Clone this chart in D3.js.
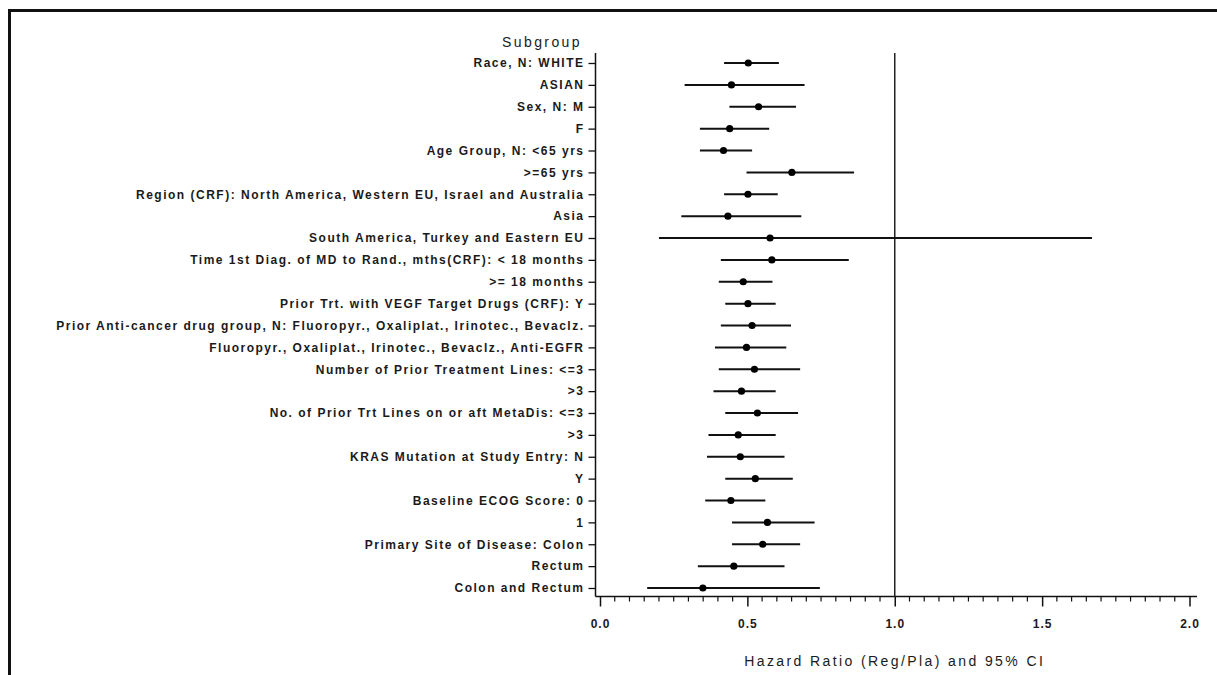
<!DOCTYPE html>
<html>
<head>
<meta charset="utf-8">
<script src="https://cdn.jsdelivr.net/npm/d3@7"></script>
<style>
  body { margin: 0; background: #fff; }
  svg { display: block; }
  text { font-family: "Liberation Sans", Arial, sans-serif; fill: #1a1a1a; }
</style>
</head>
<body>
<svg width="1217" height="675"></svg>
<script>
var subgroups = [
    "Race, N: WHITE",
    "ASIAN",
    "Sex, N: M",
    "F",
    "Age Group, N: <65 yrs",
    ">=65 yrs",
    "Region (CRF): North America, Western EU, Israel and Australia",
    "Asia",
    "South America, Turkey and Eastern EU",
    "Time 1st Diag. of MD to Rand., mths(CRF): < 18  months",
    ">= 18 months",
    "Prior Trt. with VEGF Target Drugs (CRF): Y",
    "Prior Anti-cancer drug group, N: Fluoropyr., Oxaliplat., Irinotec., Bevaclz.",
    "Fluoropyr., Oxaliplat., Irinotec., Bevaclz., Anti-EGFR",
    "Number of Prior Treatment Lines: <=3",
    ">3",
    "No. of Prior Trt Lines on or aft MetaDis: <=3",
    ">3 ",
    "KRAS Mutation at Study Entry: N",
    "Y",
    "Baseline ECOG Score: 0",
    "1",
    "Primary Site of Disease: Colon",
    "Rectum",
    "Colon and Rectum"
];
var hr    = [0.503, 0.446, 0.538, 0.440, 0.419, 0.651, 0.502, 0.434, 0.577, 0.583, 0.486, 0.502, 0.516,
             0.497, 0.524, 0.480, 0.534, 0.469, 0.476, 0.527, 0.444, 0.568, 0.552, 0.454, 0.349];
var lower = [0.421, 0.287, 0.439, 0.339, 0.339, 0.497, 0.421, 0.276, 0.200, 0.410, 0.403, 0.425, 0.410,
             0.390, 0.403, 0.385, 0.425, 0.368, 0.363, 0.425, 0.357, 0.448, 0.448, 0.332, 0.160];
var upper = [0.607, 0.694, 0.665, 0.574, 0.516, 0.862, 0.603, 0.683, 1.669, 0.844, 0.585, 0.596, 0.648,
             0.632, 0.679, 0.596, 0.672, 0.596, 0.626, 0.654, 0.561, 0.728, 0.679, 0.626, 0.746];
var xTicks = [0, 0.5, 1, 1.5, 2];

var rows = subgroups.map(function(s, i) {
    return { id: i, label: s.trim(), hr: hr[i], lo: lower[i], hi: upper[i] };
});

var svg = d3.select("svg");

// frame (only top and left edges are inside the picture)
svg.append("rect")
    .attr("x", 9.5).attr("y", 10.5)
    .attr("width", 1400).attr("height", 900)
    .attr("fill", "none")
    .attr("stroke", "#111")
    .attr("stroke-width", 3);

var x = d3.scaleLinear().domain([0, 2]).range([600, 1189.5]);
var y = d3.scalePoint().domain(rows.map(function(d) { return d.id; })).range([63, 588]);

var axisLeftX = 595.5, axisBottomY = 596.5, axisTopY = 53;

// y axis
svg.append("line")
    .attr("x1", axisLeftX).attr("x2", axisLeftX)
    .attr("y1", axisTopY).attr("y2", axisBottomY)
    .attr("stroke", "#111").attr("stroke-width", 1.5);

var yAxis = d3.axisLeft(y).tickSize(7).tickPadding(4)
    .tickFormat(function(i) { return rows[i].label; });
var gy = svg.append("g")
    .attr("transform", "translate(" + axisLeftX + ",0)")
    .call(yAxis);
gy.select(".domain").remove();
gy.selectAll(".tick line").attr("stroke", "#111").attr("stroke-width", 1.3);
gy.selectAll(".tick text")
    .attr("font-size", "12px")
    .attr("font-weight", "bold")
    .style("letter-spacing", "1.5px")
    .attr("fill", "#2a2a2a");

svg.append("text")
    .attr("x", 582).attr("y", 47)
    .attr("text-anchor", "end")
    .attr("font-size", "14px")
    .style("letter-spacing", "2.4px")
    .text("Subgroup");

// x axis, major and minor ticks
svg.append("line")
    .attr("x1", axisLeftX).attr("x2", 1197)
    .attr("y1", axisBottomY).attr("y2", axisBottomY)
    .attr("stroke", "#111").attr("stroke-width", 1.5);

var minor = d3.range(0, 2.0001, 0.05).filter(function(v) {
    return Math.abs(v * 2 - Math.round(v * 2)) > 1e-6;
});
svg.append("g").selectAll("line")
    .data(minor)
    .enter().append("line")
    .attr("x1", function(d) { return x(d); })
    .attr("x2", function(d) { return x(d); })
    .attr("y1", axisBottomY).attr("y2", axisBottomY + 5)
    .attr("stroke", "#111").attr("stroke-width", 1.2);

var xAxis = d3.axisBottom(x).tickValues(xTicks).tickSize(10).tickPadding(13)
    .tickFormat(d3.format(".1f"));
var gx = svg.append("g")
    .attr("transform", "translate(0," + axisBottomY + ")")
    .call(xAxis);
gx.select(".domain").remove();
gx.selectAll(".tick line").attr("stroke", "#111").attr("stroke-width", 1.5);
gx.selectAll(".tick text")
    .attr("font-size", "12px")
    .attr("font-weight", "bold")
    .style("letter-spacing", "1px")
    .attr("fill", "#2a2a2a");

svg.append("text")
    .attr("x", x(1)).attr("y", 666)
    .attr("text-anchor", "middle")
    .attr("font-size", "14px")
    .style("letter-spacing", "2.4px")
    .text("Hazard Ratio (Reg/Pla) and 95% CI");

// reference line at HR = 1
svg.append("line")
    .attr("x1", x(1)).attr("x2", x(1))
    .attr("y1", axisTopY).attr("y2", axisBottomY)
    .attr("stroke", "#222").attr("stroke-width", 1.5);

// confidence intervals and point estimates
var node = svg.append("g")
    .selectAll("g")
    .data(rows)
    .enter().append("g");

node.append("line")
    .attr("x1", function(d) { return x(d.lo); })
    .attr("x2", function(d) { return x(d.hi); })
    .attr("y1", function(d) { return y(d.id); })
    .attr("y2", function(d) { return y(d.id); })
    .attr("stroke", "#111")
    .attr("stroke-width", 2);

node.append("circle")
    .attr("cx", function(d) { return x(d.hr); })
    .attr("cy", function(d) { return y(d.id); })
    .attr("r", 3.6)
    .attr("fill", "#000");
</script>
</body>
</html>
